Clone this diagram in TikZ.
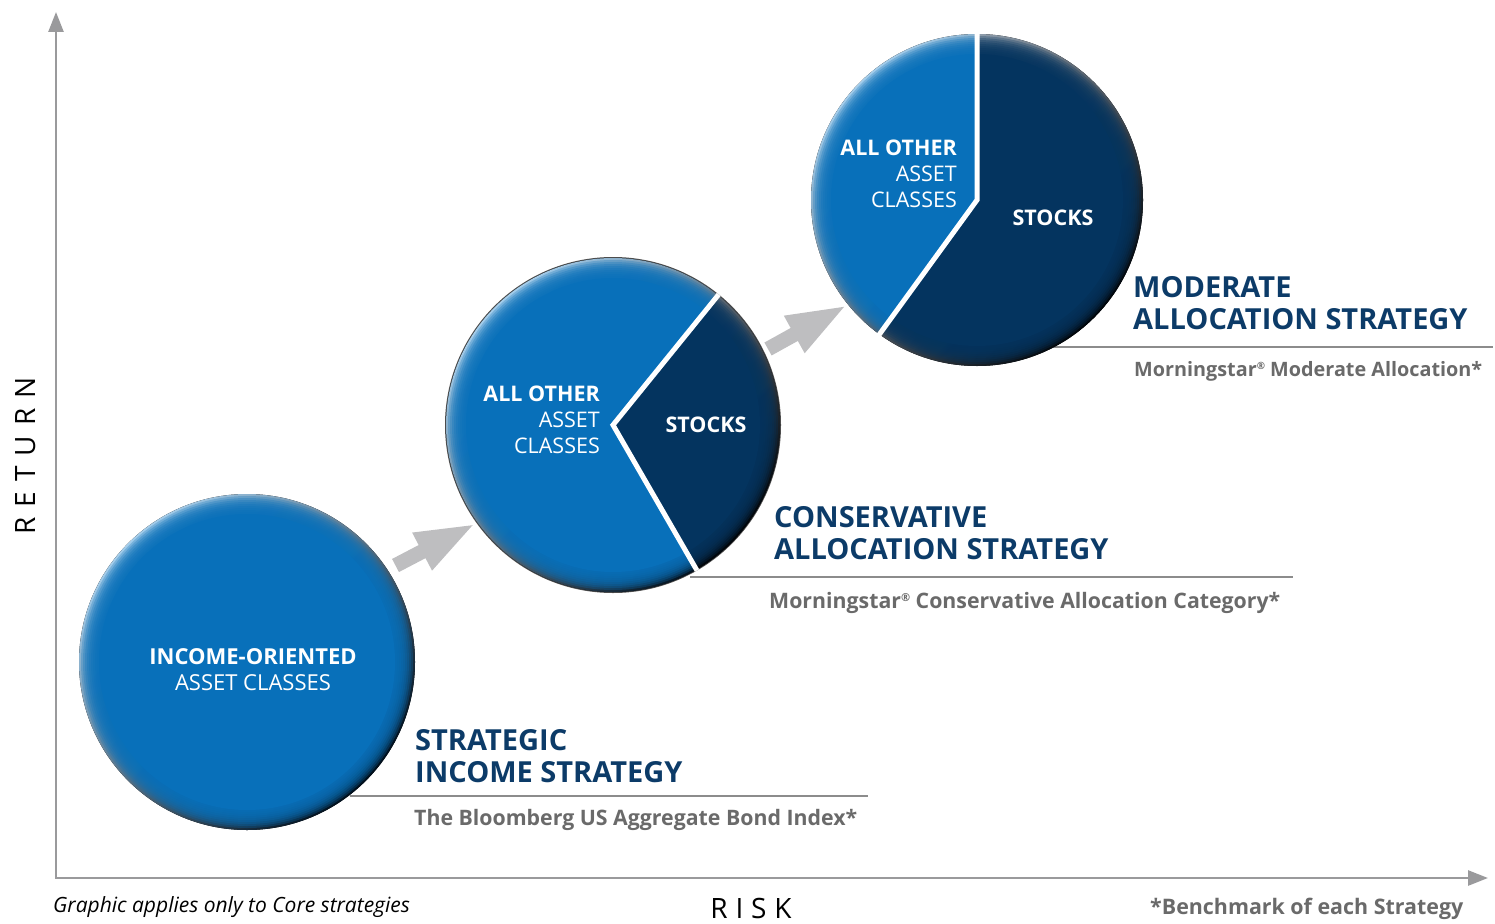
\documentclass[tikz,border=0pt]{standalone}
\usepackage{fontspec}
\setmainfont{Open Sans}
\newfontfamily\spacedfont[LetterSpace=28]{Open Sans}
\newfontfamily\widefont[LetterSpace=36]{Open Sans}
\usetikzlibrary{arrows.meta,calc}
\definecolor{pieblue}{HTML}{0870BA}
\definecolor{pielight}{HTML}{A4CDEB}
\definecolor{piedark}{HTML}{00101E}
\definecolor{navy}{HTML}{04345F}
\definecolor{navylight}{HTML}{A6B6C6}
\definecolor{navydark}{HTML}{00060C}
\definecolor{titlenavy}{HTML}{0C3B68}
\definecolor{subgray}{HTML}{6A6A6A}
\definecolor{axisgray}{HTML}{9A9A9C}
\definecolor{rulegray}{HTML}{8C8C8C}
\definecolor{arrowgray}{HTML}{BEBEC0}
\newcommand\bevdisc[5]{%
  \fill[top color=#3, middle color=#4, bottom color=#5, shading angle=45] (#1) circle (#2);
  \foreach \k in {1,...,9}{\fill[#4, opacity=0.28] (#1) circle ({#2-2*\k});}
  \fill[#4] (#1) circle ({#2-20});}
\newcommand\blockarrow[2]{%
  \begin{scope}[shift={(#1)}, rotate=#2]
    \fill[arrowgray] (0,-7.4) -- (30,-7.4) -- (30,-21.5) -- (87,0) -- (30,21.5) -- (30,7.4) -- (0,7.4) -- cycle;
  \end{scope}}
\begin{document}
\begin{tikzpicture}[x=1pt,y=-1pt,
  title/.style={anchor=base west, inner sep=0, font=\fontsize{29}{32}\selectfont\bfseries, text=titlenavy},
  subtitle/.style={anchor=base west, inner sep=0, font=\fontsize{21.3}{24}\selectfont\bfseries, text=subgray},
  pielabel/.style={inner sep=0, font=\fontsize{21.5}{26}\selectfont, text=white},
  rulel/.style={rulegray, line width=1.3pt},
  axis/.style={axisgray, line width=2.6pt, {Triangle[length=20pt,width=15pt]}-{Triangle[length=20pt,width=15pt]}}]
\useasboundingbox (0,0) rectangle (1495,923);
% axes
\coordinate (O) at (56,878);
\coordinate (ytop) at (56,12);
\coordinate (xend) at (1488,878);
\draw[axis] (ytop) -- (O) -- (xend);
% rules
\draw[rulel] (350,796) -- (868,796);
\draw[rulel] (690,577) -- (1293,577);
\draw[rulel] (1040,347) -- (1493,347);
% circle 1
\coordinate (c1) at (247,662);
\bevdisc{c1}{168}{pielight}{pieblue}{piedark}
% circle 2
\coordinate (c2) at (613,425);
\fill[black!70] (c2) circle (168);
\begin{scope}
  \clip (c2) -- +(-51:180) arc[start angle=-51, end angle=-300, radius=180] -- cycle;
  \bevdisc{c2}{167}{pielight}{pieblue}{piedark}
\end{scope}
\begin{scope}
  \clip (c2) -- +(-51:180) arc[start angle=-51, end angle=60, radius=180] -- cycle;
  \bevdisc{c2}{167}{navylight}{navy}{navydark}
\end{scope}
\draw[white, line width=5pt] (c2) ++(-51:168) -- (c2) -- ++(60:168);
% circle 3
\coordinate (c3) at (977,200);
\begin{scope}
  \clip (c3) -- +(-90:180) arc[start angle=-90, end angle=-234, radius=180] -- cycle;
  \bevdisc{c3}{166}{pielight}{pieblue}{piedark}
\end{scope}
\begin{scope}
  \clip (c3) -- +(-90:180) arc[start angle=-90, end angle=126, radius=180] -- cycle;
  \bevdisc{c3}{166}{navylight}{navy}{navydark}
\end{scope}
\draw[white, line width=5pt] (c3) ++(-90:168) -- (c3) -- ++(-234:168);
% block arrows
\blockarrow{395.5,565.5}{27.6}
\blockarrow{768,349}{29}
% circle labels
\node[pielabel, anchor=base, font=\fontsize{22}{26}\selectfont\bfseries] (l1a) at (253,664) {INCOME-ORIENTED};
\node[pielabel, anchor=base, font=\fontsize{22}{26}\selectfont] (l1b) at (253,690) {ASSET CLASSES};
\node[pielabel, anchor=base east, font=\fontsize{21.5}{26}\selectfont\bfseries] (l2a) at (600,401) {ALL OTHER};
\node[pielabel, anchor=base east] (l2b) at (600,427) {ASSET};
\node[pielabel, anchor=base east] (l2c) at (600,453) {CLASSES};
\node[pielabel, anchor=base, font=\fontsize{21.5}{26}\selectfont\bfseries] (l2d) at (706,432) {STOCKS};
\node[pielabel, anchor=base east, font=\fontsize{21.5}{26}\selectfont\bfseries] (l3a) at (957,155) {ALL OTHER};
\node[pielabel, anchor=base east] (l3b) at (957,181) {ASSET};
\node[pielabel, anchor=base east] (l3c) at (957,207) {CLASSES};
\node[pielabel, anchor=base, font=\fontsize{21.5}{26}\selectfont\bfseries] (l3d) at (1053,225) {STOCKS};
% titles
\node[title] (t1a) at (415,750) {STRATEGIC};
\node[title] (t1b) at (415,782) {INCOME STRATEGY};
\node[subtitle] (s1) at (414,825) {The Bloomberg US Aggregate Bond Index*};
\node[title] (t2a) at (774,527) {CONSERVATIVE};
\node[title] (t2b) at (774,559) {ALLOCATION STRATEGY};
\node[subtitle] (s2) at (769,608) {Morningstar\raisebox{7pt}{\fontsize{11}{11}\selectfont ®} Conservative Allocation Category*};
\node[title] (t3a) at (1133,297) {MODERATE};
\node[title] (t3b) at (1133,329) {ALLOCATION STRATEGY};
\node[subtitle, font=\fontsize{19.8}{24}\selectfont\bfseries] (s3) at (1134,376) {Morningstar\raisebox{6.5pt}{\fontsize{10}{10}\selectfont ®} Moderate Allocation*};
% axis labels and notes
\node[rotate=90, anchor=base, inner sep=0, font=\widefont\fontsize{28}{28}\selectfont] (ret) at (35,456) {RETURN};
\node[anchor=base, inner sep=0, font=\spacedfont\fontsize{28}{28}\selectfont] (risk) at (751,918) {RISK};
\node[anchor=base west, inner sep=0, font=\fontsize{21}{24}\selectfont\itshape] (note) at (53,912) {Graphic applies only to Core strategies};
\node[anchor=base west, inner sep=0, font=\fontsize{21.4}{24}\selectfont\bfseries, text=subgray] (bench) at (1150,914) {*Benchmark of each Strategy};
\end{tikzpicture}
\end{document}
